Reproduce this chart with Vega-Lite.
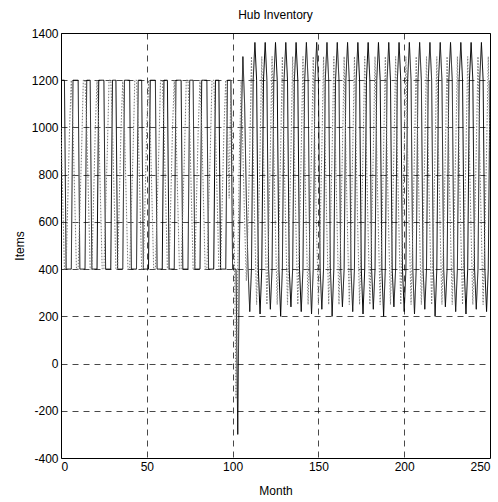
{
 "$schema": "https://vega.github.io/schema/vega-lite/v6.json",
 "width": 429, "height": 425,
 "autosize": {"type": "none"},
 "padding": {"left": 61, "top": 33, "right": 8, "bottom": 44},
 "title": {"text": "Hub Inventory", "fontSize": 12, "fontWeight": "normal", "font": "Liberation Sans", "offset": 5, "color": "#000"},
 "data": {"values": [
  {"m":0,"a":1200,"b":1000},{"m":1,"a":1200,"b":700},{"m":2,"a":1200,"b":400},{"m":3,"a":400,"b":400},{"m":4,"a":400,"b":700},{"m":5,"a":400,"b":1000},{"m":6,"a":400,"b":1200},
  {"m":7,"a":1200,"b":1000},{"m":8,"a":1200,"b":700},{"m":9,"a":1200,"b":400},{"m":10,"a":1200,"b":400},{"m":11,"a":400,"b":650},{"m":12,"a":400,"b":900},{"m":13,"a":400,"b":1200},{"m":14,"a":400,"b":1200},
  {"m":15,"a":1200,"b":1000},{"m":16,"a":1200,"b":700},{"m":17,"a":1200,"b":400},{"m":18,"a":400,"b":400},{"m":19,"a":400,"b":700},{"m":20,"a":400,"b":1000},{"m":21,"a":400,"b":1200},
  {"m":22,"a":1200,"b":1000},{"m":23,"a":1200,"b":700},{"m":24,"a":1200,"b":400},{"m":25,"a":1200,"b":400},{"m":26,"a":400,"b":650},{"m":27,"a":400,"b":900},{"m":28,"a":400,"b":1200},{"m":29,"a":400,"b":1200},
  {"m":30,"a":1200,"b":1000},{"m":31,"a":1200,"b":700},{"m":32,"a":1200,"b":400},{"m":33,"a":400,"b":400},{"m":34,"a":400,"b":700},{"m":35,"a":400,"b":1000},{"m":36,"a":400,"b":1200},
  {"m":37,"a":1200,"b":1000},{"m":38,"a":1200,"b":700},{"m":39,"a":1200,"b":400},{"m":40,"a":1200,"b":400},{"m":41,"a":400,"b":650},{"m":42,"a":400,"b":900},{"m":43,"a":400,"b":1200},{"m":44,"a":400,"b":1200},
  {"m":45,"a":1200,"b":1000},{"m":46,"a":1200,"b":700},{"m":47,"a":1200,"b":400},{"m":48,"a":400,"b":400},{"m":49,"a":400,"b":700},{"m":50,"a":400,"b":1000},{"m":51,"a":400,"b":1200},
  {"m":52,"a":1200,"b":1000},{"m":53,"a":1200,"b":700},{"m":54,"a":1200,"b":400},{"m":55,"a":1200,"b":400},{"m":56,"a":400,"b":650},{"m":57,"a":400,"b":900},{"m":58,"a":400,"b":1200},{"m":59,"a":400,"b":1200},
  {"m":60,"a":1200,"b":1000},{"m":61,"a":1200,"b":700},{"m":62,"a":1200,"b":400},{"m":63,"a":400,"b":400},{"m":64,"a":400,"b":700},{"m":65,"a":400,"b":1000},{"m":66,"a":400,"b":1200},
  {"m":67,"a":1200,"b":1000},{"m":68,"a":1200,"b":700},{"m":69,"a":1200,"b":400},{"m":70,"a":1200,"b":400},{"m":71,"a":400,"b":650},{"m":72,"a":400,"b":900},{"m":73,"a":400,"b":1200},{"m":74,"a":400,"b":1200},
  {"m":75,"a":1200,"b":1000},{"m":76,"a":1200,"b":700},{"m":77,"a":1200,"b":400},{"m":78,"a":400,"b":400},{"m":79,"a":400,"b":700},{"m":80,"a":400,"b":1000},{"m":81,"a":400,"b":1200},
  {"m":82,"a":1200,"b":1000},{"m":83,"a":1200,"b":700},{"m":84,"a":1200,"b":400},{"m":85,"a":1200,"b":400},{"m":86,"a":400,"b":650},{"m":87,"a":400,"b":900},{"m":88,"a":400,"b":1200},{"m":89,"a":400,"b":1200},
  {"m":90,"a":1200,"b":1000},{"m":91,"a":1200,"b":700},{"m":92,"a":1200,"b":400},{"m":93,"a":400,"b":400},{"m":94,"a":400,"b":700},{"m":95,"a":400,"b":1000},{"m":96,"a":400,"b":1200},
  {"m":97,"a":1200,"b":1000},{"m":98,"a":1200,"b":700},{"m":99,"a":1200,"b":1200},{"m":100,"a":400,"b":900},{"m":101,"a":400,"b":500},{"m":102,"a":400,"b":-150},{"m":103,"a":-300,"b":400},{"m":104,"a":500,"b":900},{"m":105,"a":1000,"b":1200},{"m":106,"a":1300,"b":900},{"m":107,"a":1100,"b":600},{"m":108,"a":700,"b":350},{"m":109,"a":400,"b":600},
  {"m":110,"a":220,"b":900},{"m":111,"a":400,"b":1300},{"m":112,"a":1200,"b":900},{"m":113,"a":1360,"b":550},{"m":114,"a":1200,"b":250},{"m":115,"a":400,"b":550},
  {"m":116,"a":210,"b":900},{"m":117,"a":400,"b":1300},{"m":118,"a":1200,"b":900},{"m":119,"a":1360,"b":550},{"m":120,"a":1200,"b":250},{"m":121,"a":400,"b":550},
  {"m":122,"a":230,"b":900},{"m":123,"a":400,"b":1300},{"m":124,"a":1200,"b":900},{"m":125,"a":1360,"b":550},{"m":126,"a":1200,"b":250},{"m":127,"a":400,"b":550},
  {"m":128,"a":200,"b":900},{"m":129,"a":400,"b":1300},{"m":130,"a":1200,"b":900},{"m":131,"a":1360,"b":550},{"m":132,"a":1200,"b":250},{"m":133,"a":400,"b":550},
  {"m":134,"a":240,"b":900},{"m":135,"a":400,"b":1300},{"m":136,"a":1200,"b":900},{"m":137,"a":1360,"b":550},{"m":138,"a":1200,"b":250},{"m":139,"a":400,"b":550},
  {"m":140,"a":220,"b":900},{"m":141,"a":400,"b":1300},{"m":142,"a":1200,"b":900},{"m":143,"a":1360,"b":550},{"m":144,"a":1200,"b":250},{"m":145,"a":400,"b":550},
  {"m":146,"a":210,"b":900},{"m":147,"a":400,"b":1300},{"m":148,"a":1200,"b":900},{"m":149,"a":1360,"b":550},{"m":150,"a":1200,"b":250},{"m":151,"a":400,"b":550},
  {"m":152,"a":230,"b":900},{"m":153,"a":400,"b":1300},{"m":154,"a":1200,"b":900},{"m":155,"a":1360,"b":550},{"m":156,"a":1200,"b":250},{"m":157,"a":400,"b":550},
  {"m":158,"a":200,"b":900},{"m":159,"a":400,"b":1300},{"m":160,"a":1200,"b":900},{"m":161,"a":1360,"b":550},{"m":162,"a":1200,"b":250},{"m":163,"a":400,"b":550},
  {"m":164,"a":240,"b":900},{"m":165,"a":400,"b":1300},{"m":166,"a":1200,"b":900},{"m":167,"a":1360,"b":550},{"m":168,"a":1200,"b":250},{"m":169,"a":400,"b":550},
  {"m":170,"a":220,"b":900},{"m":171,"a":400,"b":1300},{"m":172,"a":1200,"b":900},{"m":173,"a":1360,"b":550},{"m":174,"a":1200,"b":250},{"m":175,"a":400,"b":550},
  {"m":176,"a":210,"b":900},{"m":177,"a":400,"b":1300},{"m":178,"a":1200,"b":900},{"m":179,"a":1360,"b":550},{"m":180,"a":1200,"b":250},{"m":181,"a":400,"b":550},
  {"m":182,"a":230,"b":900},{"m":183,"a":400,"b":1300},{"m":184,"a":1200,"b":900},{"m":185,"a":1360,"b":550},{"m":186,"a":1200,"b":250},{"m":187,"a":400,"b":550},
  {"m":188,"a":200,"b":900},{"m":189,"a":400,"b":1300},{"m":190,"a":1200,"b":900},{"m":191,"a":1360,"b":550},{"m":192,"a":1200,"b":250},{"m":193,"a":400,"b":550},
  {"m":194,"a":240,"b":900},{"m":195,"a":400,"b":1300},{"m":196,"a":1200,"b":900},{"m":197,"a":1360,"b":550},{"m":198,"a":1200,"b":250},{"m":199,"a":400,"b":550},
  {"m":200,"a":220,"b":900},{"m":201,"a":400,"b":1300},{"m":202,"a":1200,"b":900},{"m":203,"a":1360,"b":550},{"m":204,"a":1200,"b":250},{"m":205,"a":400,"b":550},
  {"m":206,"a":210,"b":900},{"m":207,"a":400,"b":1300},{"m":208,"a":1200,"b":900},{"m":209,"a":1360,"b":550},{"m":210,"a":1200,"b":250},{"m":211,"a":400,"b":550},
  {"m":212,"a":230,"b":900},{"m":213,"a":400,"b":1300},{"m":214,"a":1200,"b":900},{"m":215,"a":1360,"b":550},{"m":216,"a":1200,"b":250},{"m":217,"a":400,"b":550},
  {"m":218,"a":200,"b":900},{"m":219,"a":400,"b":1300},{"m":220,"a":1200,"b":900},{"m":221,"a":1360,"b":550},{"m":222,"a":1200,"b":250},{"m":223,"a":400,"b":550},
  {"m":224,"a":240,"b":900},{"m":225,"a":400,"b":1300},{"m":226,"a":1200,"b":900},{"m":227,"a":1360,"b":550},{"m":228,"a":1200,"b":250},{"m":229,"a":400,"b":550},
  {"m":230,"a":220,"b":900},{"m":231,"a":400,"b":1300},{"m":232,"a":1200,"b":900},{"m":233,"a":1360,"b":550},{"m":234,"a":1200,"b":250},{"m":235,"a":400,"b":550},
  {"m":236,"a":210,"b":900},{"m":237,"a":400,"b":1300},{"m":238,"a":1200,"b":900},{"m":239,"a":1360,"b":550},{"m":240,"a":1200,"b":250},{"m":241,"a":400,"b":550},
  {"m":242,"a":230,"b":900},{"m":243,"a":400,"b":1300},{"m":244,"a":1200,"b":900},{"m":245,"a":1360,"b":550},{"m":246,"a":1200,"b":250},{"m":247,"a":400,"b":550},
  {"m":248,"a":220,"b":900},{"m":249,"a":400,"b":1300},{"m":250,"a":1200,"b":900}
 ]},
 "transform": [{"fold": ["a", "b"], "as": ["s", "v"]}],
 "mark": {"type": "line", "strokeWidth": 1, "clip": true},
 "encoding": {
  "x": {"field": "m", "type": "quantitative", "scale": {"domain": [0, 250], "nice": false, "zero": false}, "axis": {"title": "Month", "values": [0, 50, 100, 150, 200, 250], "labelExpr": "'' + datum.value"}},
  "y": {"field": "v", "type": "quantitative", "scale": {"domain": [-400, 1400], "nice": false, "zero": false}, "axis": {"title": "Items", "values": [-400, -200, 0, 200, 400, 600, 800, 1000, 1200, 1400], "labelExpr": "'' + datum.value"}},
  "color": {"field": "s", "type": "nominal", "scale": {"domain": ["a", "b"], "range": ["#000000", "#7a7a7a"]}, "legend": null},
  "strokeDash": {"field": "s", "type": "nominal", "scale": {"domain": ["a", "b"], "range": [[1, 0], [1.5, 1.5]]}, "legend": null},
  "order": {"field": "m", "type": "quantitative"}
 },
 "config": {
  "view": {"stroke": "#000", "strokeWidth": 1},
  "axis": {"grid": true, "gridColor": "#000", "gridDash": [6, 5], "gridOpacity": 0.9, "gridWidth": 0.8, "ticks": false, "domain": false, "labelFont": "Liberation Sans", "labelFontSize": 12, "labelColor": "#000", "titleFont": "Liberation Sans", "titleFontSize": 12, "titleFontWeight": "normal", "titleColor": "#000", "labelPadding": 3},
  "axisY": {"titlePadding": 5},
  "axisX": {"titlePadding": 13}
 }
}
